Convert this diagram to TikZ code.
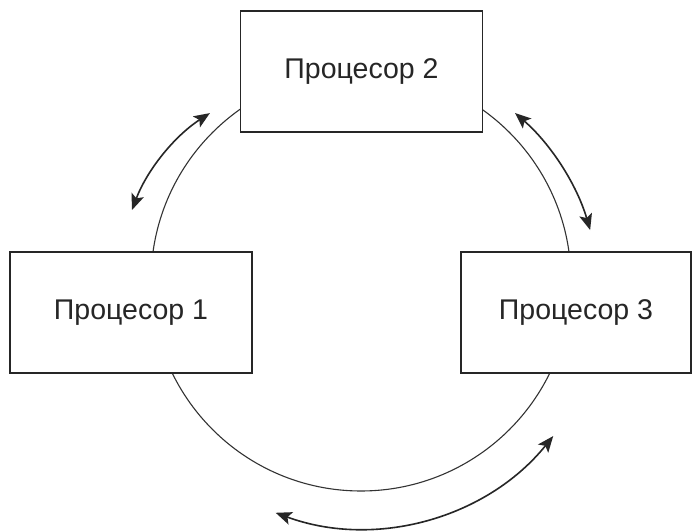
\documentclass[tikz,border=0pt]{standalone}
\usepackage{fontspec}
\setmainfont{Liberation Sans}
\usetikzlibrary{arrows.meta}
\begin{document}
\begin{tikzpicture}[x=1pt,y=1pt,
  procbox/.style={draw=black!85,line width=1.3pt,fill=white,minimum width=#1,minimum height=121pt,inner sep=0pt,
    font=\fontsize{28.5}{34}\selectfont,text=black!85},
  ring/.style={draw=black!80,line width=1.1pt},
  dblarrow/.style={draw=black!85,line width=1.6pt,{Stealth[length=16pt,width=13pt,inset=3.5pt]}-{Stealth[length=16pt,width=13pt,inset=3.5pt]}}]
\useasboundingbox[fill=white] (0,0) rectangle (693,532);
% ring behind the boxes
\coordinate (ctr) at (361,251);
\draw[ring] (ctr) circle[radius=210];
% boxes
\node[procbox=242pt] (p2) at (361.5,460.5) {Процесор 2};
\node[procbox=242pt] (p1) at (131,219.5) {Процесор 1};
\node[procbox=230pt] (p3) at (576,219.5) {Процесор 3};
% arrow start points
\coordinate (a1s) at (132,322);
\coordinate (a2s) at (515,419);
\coordinate (a3s) at (553.2,95.9);
% arrows
\draw[dblarrow] (a1s) arc[start angle=159.4,end angle=123,radius=199];
\draw[dblarrow] (a2s) arc[start angle=49.1,end angle=16.3,radius=246.3];
\draw[dblarrow] (a3s) arc[start angle=-38.9,end angle=-110.2,radius=247];
\end{tikzpicture}
\end{document}
